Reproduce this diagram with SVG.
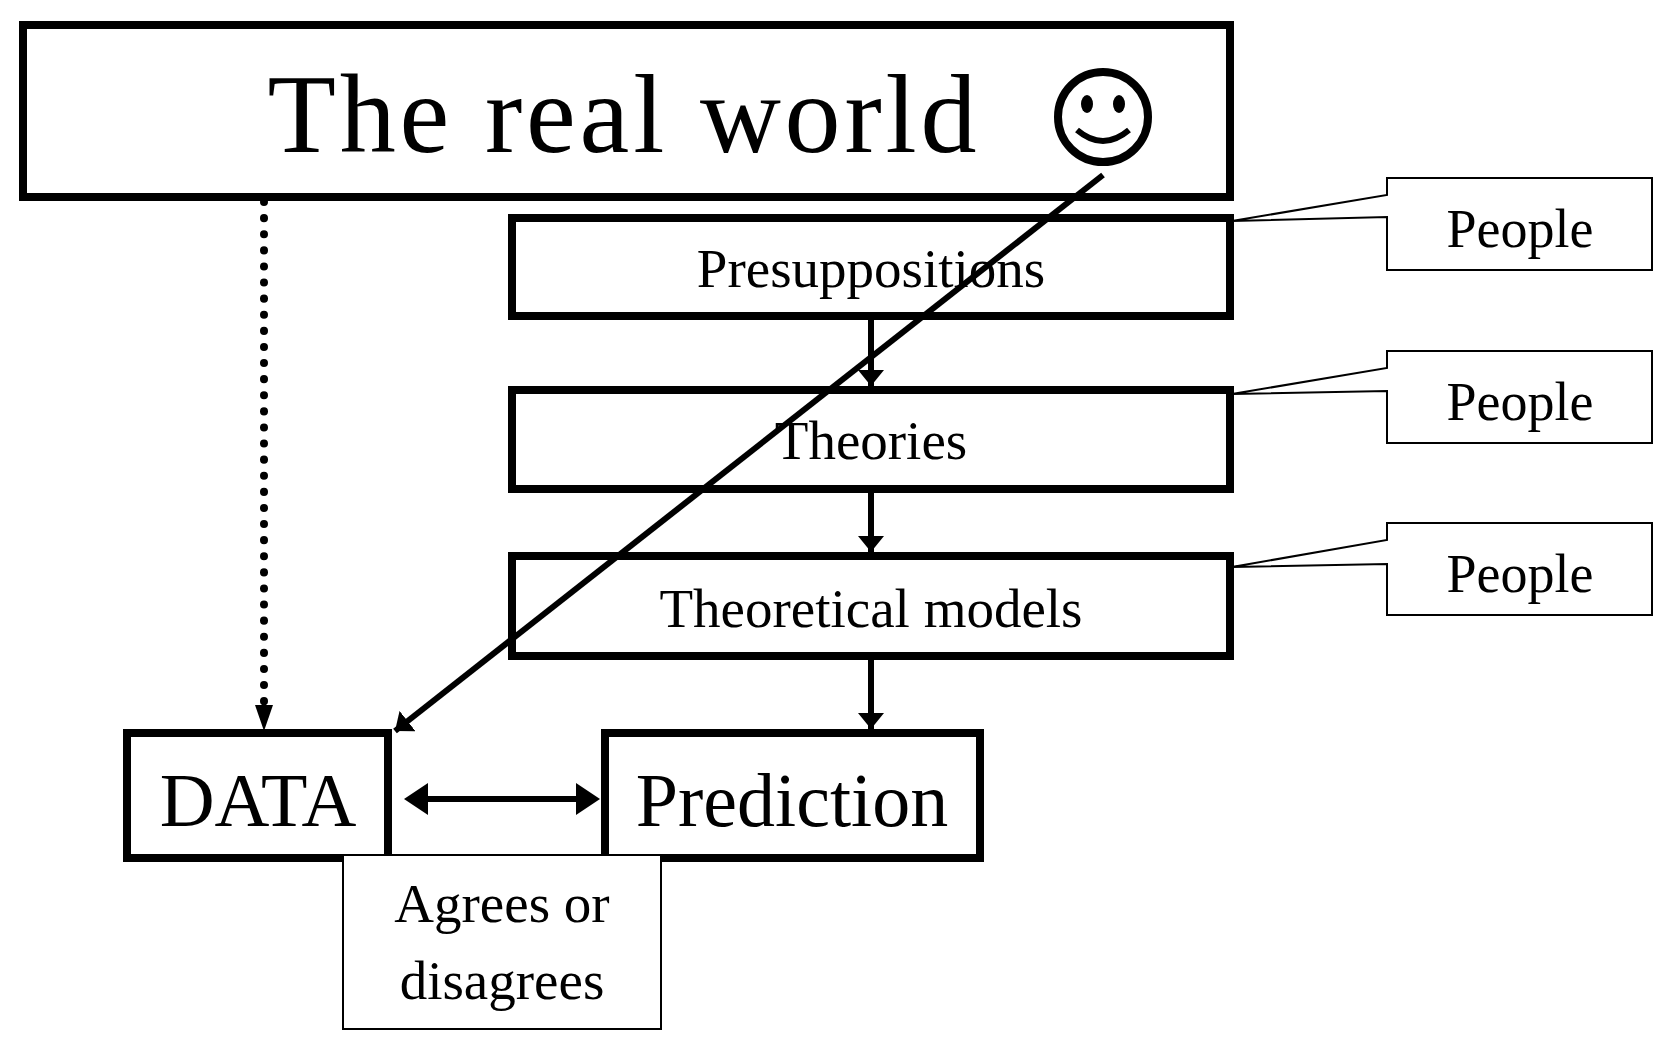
<svg xmlns="http://www.w3.org/2000/svg" width="1666" height="1045" viewBox="0 0 1666 1045">
<defs>
<style>
.b{fill:#fff;stroke:#000;stroke-width:8}
.t{fill:#fff;stroke:#000;stroke-width:2}
text{font-family:"Liberation Serif",serif;fill:#000;text-anchor:middle}
.c{stroke:#000;fill:none;stroke-width:6}
</style>
<marker id="a" viewBox="0 0 10 10" refX="9" refY="5" markerWidth="4" markerHeight="4" orient="auto-start-reverse" markerUnits="strokeWidth"><path d="M0,0L10,5L0,10z" fill="#000"/></marker>
<marker id="s" viewBox="0 0 10 10" refX="9" refY="5" markerWidth="5" markerHeight="6" orient="auto" markerUnits="userSpaceOnUse"><path d="M0,0L10,5L0,10z" fill="#000"/></marker>
<marker id="d" viewBox="0 0 10 10" refX="10" refY="5" markerWidth="16" markerHeight="26" orient="auto" markerUnits="userSpaceOnUse" preserveAspectRatio="none"><path d="M0,0L10,5L0,10z" fill="#000"/></marker>
</defs>
<g id="world"><rect class="b" x="23" y="25" width="1207" height="172"/>
<text x="622" y="152" font-size="112" textLength="709">The real world</text>
<circle cx="1103" cy="117" r="45" fill="none" stroke="#000" stroke-width="8"/>
<ellipse cx="1087" cy="104" rx="6" ry="9"/><ellipse cx="1119" cy="104" rx="6" ry="9"/>
<path d="M1077,130 Q1103,152 1129,130" fill="none" stroke="#000" stroke-width="6"/></g>
<g id="presup"><rect class="b" x="512" y="218" width="718" height="98"/><text x="871" y="287" font-size="55">Presuppositions</text></g>
<g id="theories"><rect class="b" x="512" y="390" width="718" height="99"/><text x="871" y="459" font-size="55">Theories</text></g>
<g id="models"><rect class="b" x="512" y="556" width="718" height="100"/><text x="871" y="627" font-size="55">Theoretical models</text></g>
<g id="data"><rect class="b" x="127" y="733" width="261" height="125"/><text x="258" y="826" font-size="76">DATA</text></g>
<g id="prediction"><rect class="b" x="605" y="733" width="375" height="125"/><text x="792" y="826" font-size="76">Prediction</text></g>
<g id="agrees"><rect class="t" x="343" y="855" width="318" height="174" stroke-width="1.5"/><text x="502" y="922" font-size="55">Agrees or</text><text x="502" y="999" font-size="55">disagrees</text></g>
<g id="people1"><path class="t" d="M1232,221 L1387,195 L1387,178 L1652,178 L1652,270 L1387,270 L1387,217 Z"/><text x="1520" y="247" font-size="54">People</text></g>
<g id="people2"><path class="t" d="M1232,394 L1387,368 L1387,351 L1652,351 L1652,443 L1387,443 L1387,391 Z"/><text x="1520" y="420" font-size="54">People</text></g>
<g id="people3"><path class="t" d="M1232,567 L1387,540 L1387,523 L1652,523 L1652,615 L1387,615 L1387,564 Z"/><text x="1520" y="592" font-size="54">People</text></g>
<g id="connectors">
<line x1="264" y1="202" x2="264" y2="706" stroke="#000" stroke-width="8" stroke-dasharray="0.1 16" stroke-linecap="round"/>
<path d="M255,705 L273,705 L264,731z"/>
<line class="c" x1="871" y1="316" x2="871" y2="386" marker-end="url(#d)"/>
<line class="c" x1="871" y1="489" x2="871" y2="552" marker-end="url(#d)"/>
<line class="c" x1="871" y1="656" x2="871" y2="729" marker-end="url(#d)"/>
<line class="c" x1="1103" y1="175" x2="395" y2="731" marker-end="url(#d)"/>
<line class="c" x1="420" y1="799" x2="585" y2="799" stroke-width="8"/>
<path d="M404,799 L428,783 L428,815z M600,799 L576,783 L576,815z"/>
</g>
</svg>
